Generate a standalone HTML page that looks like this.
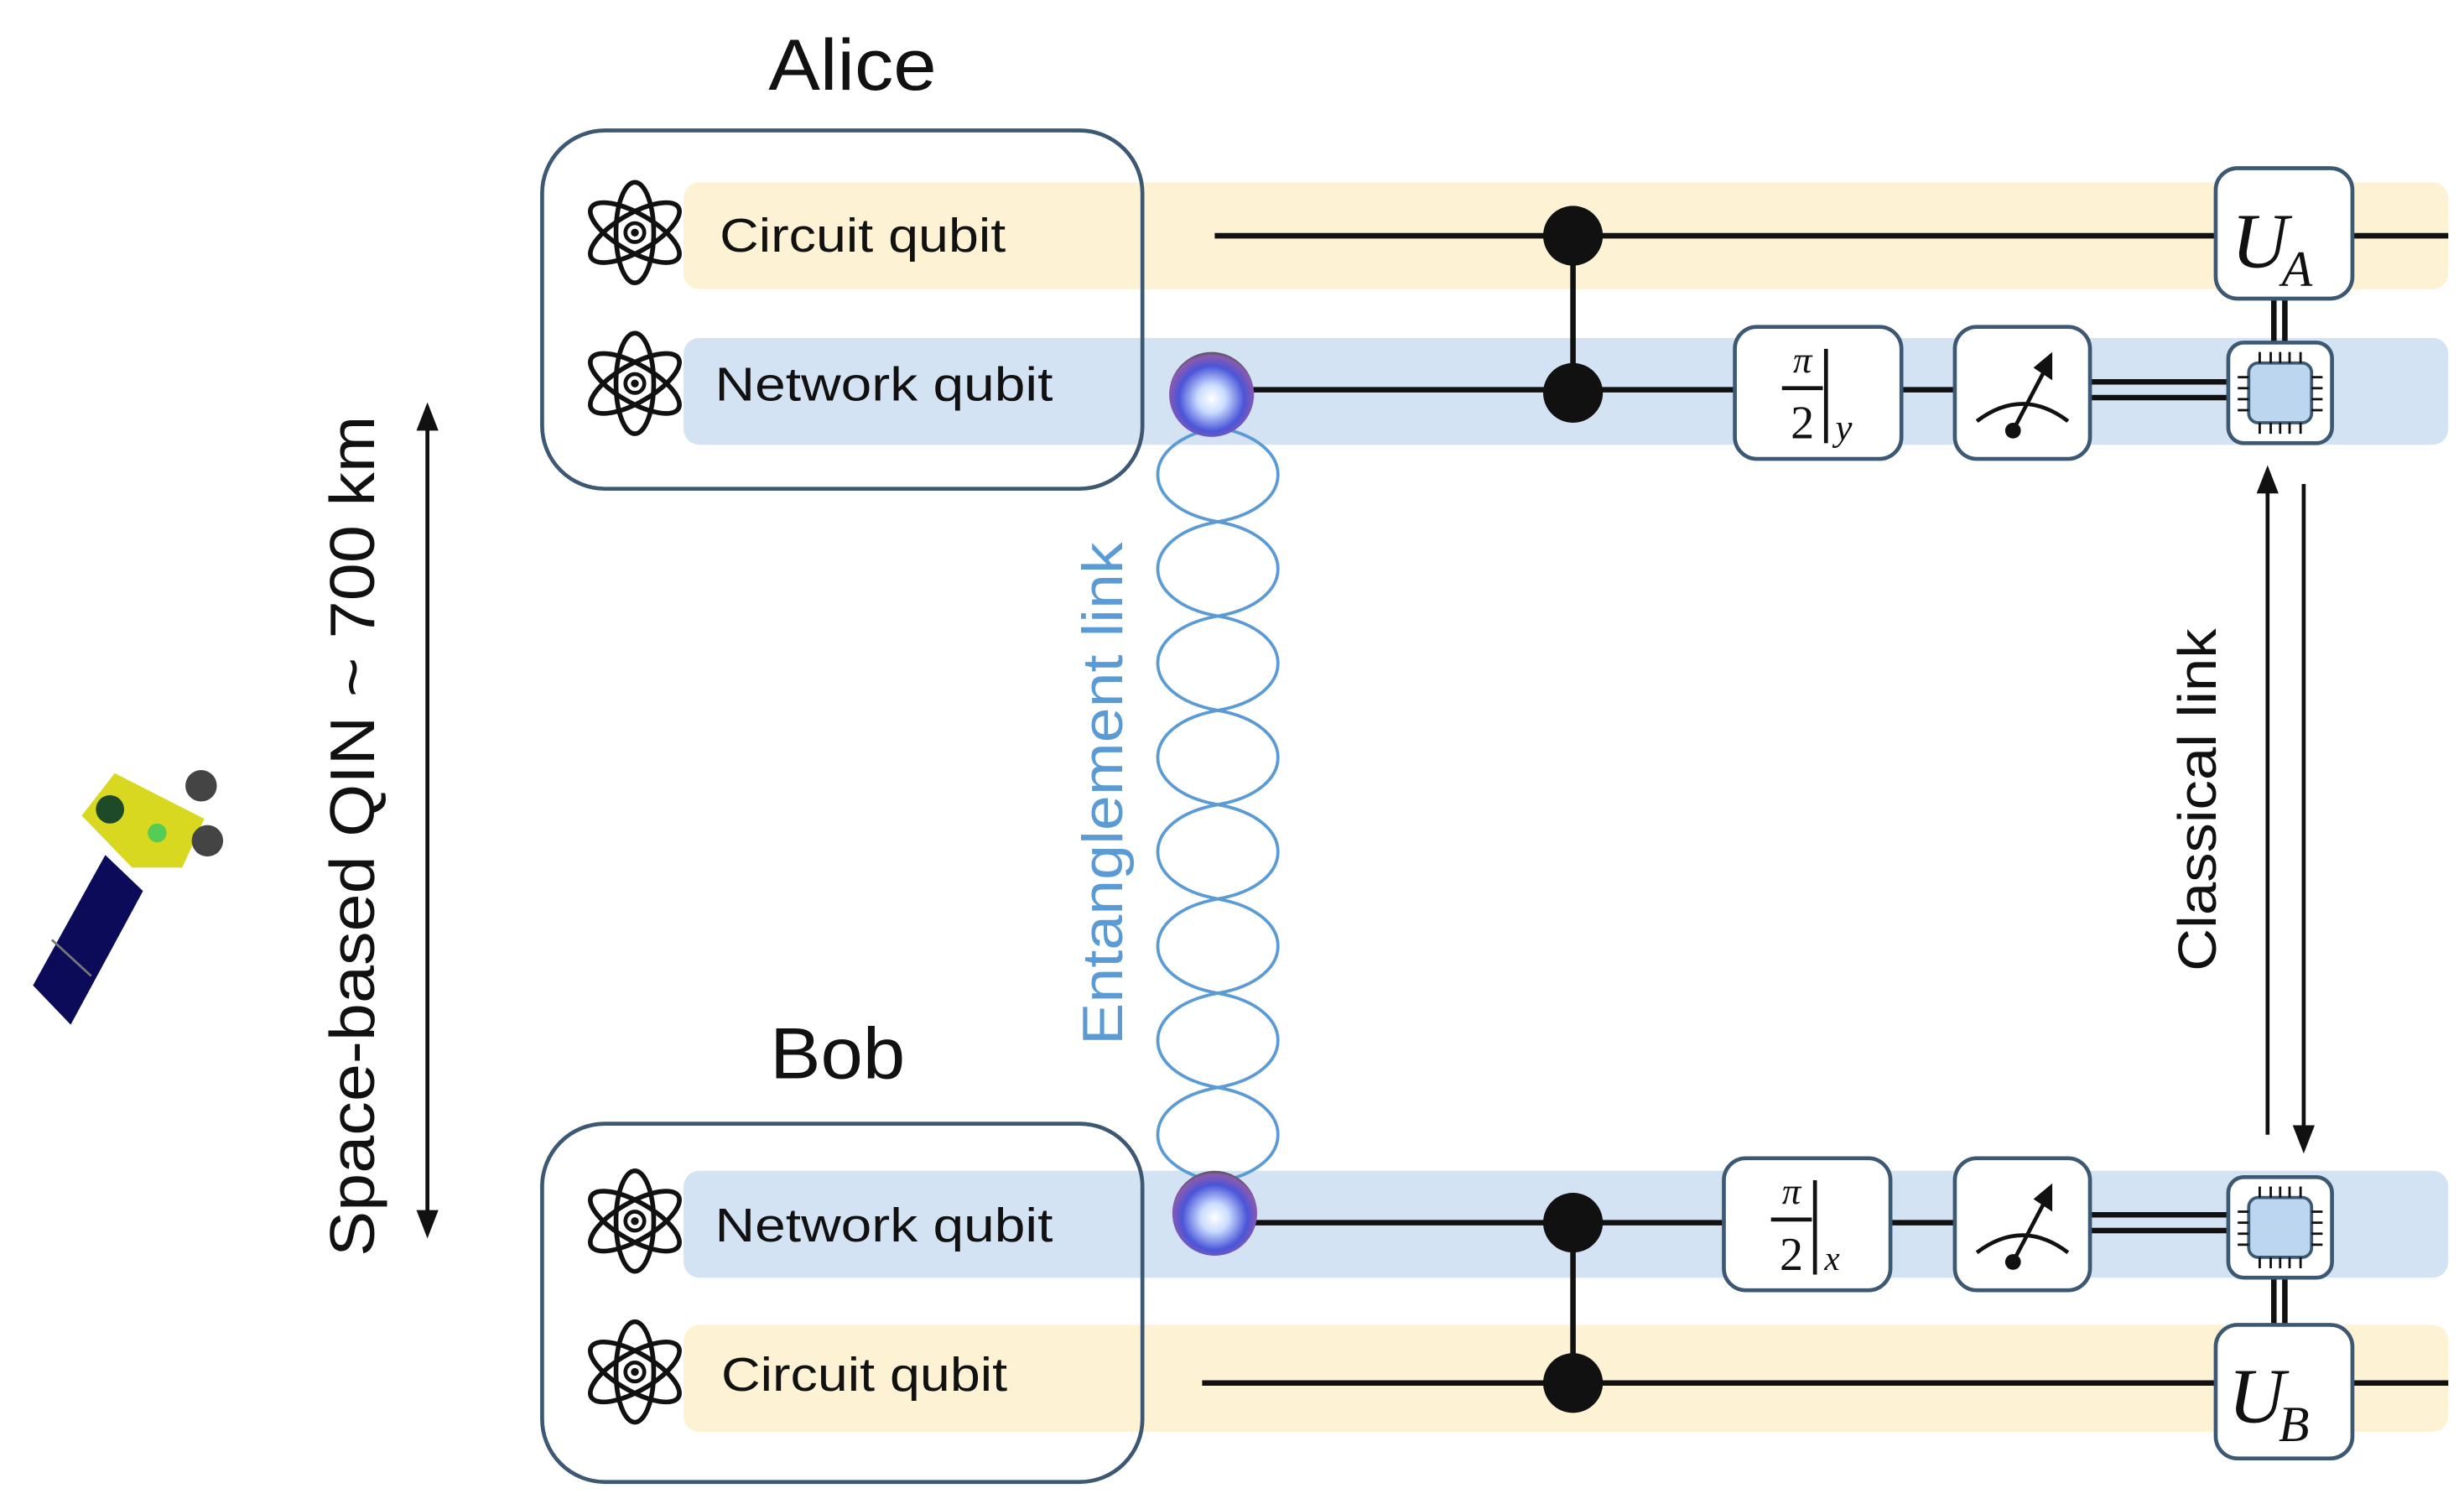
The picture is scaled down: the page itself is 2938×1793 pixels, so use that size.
<!DOCTYPE html>
<html><head><meta charset="utf-8"><style>
html,body{margin:0;padding:0;background:#fff;}
svg{display:block;}
</style></head><body>
<svg width="2938" height="1793" viewBox="0 0 1568 957" preserveAspectRatio="none" xmlns="http://www.w3.org/2000/svg" font-family="'Liberation Sans', sans-serif">
<defs>
<g id="atom" fill="none" stroke="#111" stroke-width="3">
<ellipse cx="0" cy="0" rx="12" ry="32"/>
<ellipse cx="0" cy="0" rx="12" ry="32" transform="rotate(60)"/>
<ellipse cx="0" cy="0" rx="12" ry="32" transform="rotate(-60)"/>
<circle cx="0" cy="0" r="6" stroke-width="2.5"/>
<circle cx="0" cy="0" r="2.5" fill="#111" stroke="none"/>
</g>
<radialGradient id="ball" cx="0.5" cy="0.55" r="0.55">
<stop offset="0" stop-color="#ffffff"/>
<stop offset="0.3" stop-color="#c9dcff"/>
<stop offset="0.7" stop-color="#4a55d8"/>
<stop offset="0.92" stop-color="#8a5ab0"/>
<stop offset="1" stop-color="#555"/>
</radialGradient>
<g id="meter">
<rect x="0" y="0" width="86" height="84" rx="14" fill="#fff" stroke="#3d5873" stroke-width="2.5"/>
<path d="M14 60 Q43 38 72 60" fill="none" stroke="#111" stroke-width="2.5"/>
<line x1="37" y1="66" x2="58" y2="26" stroke="#111" stroke-width="2.5"/>
<polygon points="62,16 62,34 50,26" fill="#111"/>
<circle cx="37" cy="66" r="5" fill="#111"/>
</g>
<g id="chip">
<rect x="0" y="0" width="66" height="64" rx="10" fill="#fff" stroke="#3d5873" stroke-width="2.5"/>
<rect x="13" y="13" width="40" height="38" rx="6" fill="#bcd6ef" stroke="#3d5873" stroke-width="2"/>
<g stroke="#111" stroke-width="1.5">
<line x1="20" y1="6" x2="20" y2="13"/><line x1="27" y1="6" x2="27" y2="13"/><line x1="33" y1="6" x2="33" y2="13"/><line x1="39" y1="6" x2="39" y2="13"/><line x1="46" y1="6" x2="46" y2="13"/>
<line x1="20" y1="51" x2="20" y2="58"/><line x1="27" y1="51" x2="27" y2="58"/><line x1="33" y1="51" x2="33" y2="58"/><line x1="39" y1="51" x2="39" y2="58"/><line x1="46" y1="51" x2="46" y2="58"/>
<line x1="6" y1="22" x2="13" y2="22"/><line x1="6" y1="29" x2="13" y2="29"/><line x1="6" y1="36" x2="13" y2="36"/><line x1="6" y1="43" x2="13" y2="43"/>
<line x1="53" y1="22" x2="60" y2="22"/><line x1="53" y1="29" x2="60" y2="29"/><line x1="53" y1="36" x2="60" y2="36"/><line x1="53" y1="43" x2="60" y2="43"/>
</g>
</g>
</defs>

<!-- Satellite -->
<polygon points="21,627 45,652 91,567 67,544" fill="#0b0b5a"/>
<line x1="33" y1="598" x2="58" y2="621" stroke="#777" stroke-width="1.5"/>
<polygon points="52,519 73,492 130,521 116,552 84,552" fill="#d8d820"/>
<circle cx="70" cy="515" r="9" fill="#1f4a2a"/>
<circle cx="100" cy="530" r="6" fill="#55cc55"/>
<circle cx="128" cy="500" r="10" fill="#444"/>
<circle cx="132" cy="535" r="10" fill="#444"/>

<!-- Left distance arrow -->
<line x1="272" y1="270" x2="272" y2="775" stroke="#111" stroke-width="2.5"/>
<polygon points="272,256 265,274 279,274" fill="#111"/>
<polygon points="272,788 265,770 279,770" fill="#111"/>
<text transform="translate(238,532) rotate(-90)" text-anchor="middle" font-size="40" textLength="535" lengthAdjust="spacingAndGlyphs" fill="#111">Space-based QIN ~ 700 km</text>

<!-- Bands -->
<rect x="435" y="116" width="1123" height="68" rx="10" fill="#fdf2d3"/>
<rect x="435" y="215" width="1123" height="68" rx="10" fill="#d4e3f3"/>
<rect x="435" y="745" width="1123" height="68" rx="10" fill="#d4e3f3"/>
<rect x="435" y="843" width="1123" height="68" rx="10" fill="#fdf2d3"/>

<!-- Node boxes -->
<text x="489" y="57" font-size="46" textLength="107" lengthAdjust="spacingAndGlyphs" fill="#111">Alice</text>
<rect x="345" y="83" width="382" height="228" rx="40" fill="none" stroke="#3d5873" stroke-width="2.5"/>
<text x="490" y="686" font-size="46" textLength="86" lengthAdjust="spacingAndGlyphs" fill="#111">Bob</text>
<rect x="345" y="715" width="382" height="228" rx="40" fill="none" stroke="#3d5873" stroke-width="2.5"/>

<use href="#atom" x="404" y="148"/>
<use href="#atom" x="404" y="244"/>
<use href="#atom" x="404" y="777"/>
<use href="#atom" x="404" y="873"/>
<text x="458" y="160" font-size="30" textLength="182" lengthAdjust="spacingAndGlyphs" fill="#111">Circuit qubit</text>
<text x="455" y="255" font-size="30" textLength="215" lengthAdjust="spacingAndGlyphs" fill="#111">Network qubit</text>
<text x="455" y="790" font-size="30" textLength="215" lengthAdjust="spacingAndGlyphs" fill="#111">Network qubit</text>
<text x="459" y="885" font-size="30" textLength="182" lengthAdjust="spacingAndGlyphs" fill="#111">Circuit qubit</text>

<!-- Entanglement helix -->
<g fill="none" stroke="#5b9bd5" stroke-width="2">
<path d="M775 272 C826 281 826 323 775 332 C724 341 724 383 775 392 C826 401 826 443 775 452 C724 461 724 503 775 512 C826 521 826 563 775 572 C724 581 724 623 775 632 C826 641 826 683 775 692 C724 701 724 743 775 752"/>
<path d="M775 272 C724 281 724 323 775 332 C826 341 826 383 775 392 C724 401 724 443 775 452 C826 461 826 503 775 512 C724 521 724 563 775 572 C826 581 826 623 775 632 C724 641 724 683 775 692 C826 701 826 743 775 752"/>
</g>
<text transform="translate(714,505) rotate(-90)" text-anchor="middle" font-size="36" textLength="320" lengthAdjust="spacingAndGlyphs" fill="#5b9bd5">Entanglement link</text>

<!-- Wires -->
<g stroke="#111" stroke-width="3.5">
<line x1="773" y1="150" x2="1558" y2="150"/>
<line x1="797" y1="248" x2="1244" y2="248"/>
<line x1="1001" y1="150" x2="1001" y2="250"/>
<line x1="797" y1="778" x2="1244" y2="778"/>
<line x1="765" y1="880" x2="1558" y2="880"/>
<line x1="1001" y1="778" x2="1001" y2="880"/>
<line x1="1330" y1="243" x2="1418" y2="243"/>
<line x1="1330" y1="253" x2="1418" y2="253"/>
<line x1="1330" y1="773" x2="1418" y2="773"/>
<line x1="1330" y1="783" x2="1418" y2="783"/>
<line x1="1447" y1="190" x2="1447" y2="218"/>
<line x1="1454" y1="190" x2="1454" y2="218"/>
<line x1="1447" y1="813" x2="1447" y2="843"/>
<line x1="1454" y1="813" x2="1454" y2="843"/>
</g>
<circle cx="1001" cy="150" r="19" fill="#111"/>
<circle cx="1001" cy="250" r="19" fill="#111"/>
<circle cx="1001" cy="778" r="19" fill="#111"/>
<circle cx="1001" cy="880" r="19" fill="#111"/>

<ellipse cx="771" cy="251" rx="27" ry="27" fill="url(#ball)"/>
<ellipse cx="773" cy="772" rx="27" ry="27" fill="url(#ball)"/>

<!-- Gates Alice -->
<rect x="1104" y="208" width="106" height="84" rx="14" fill="#fff" stroke="#3d5873" stroke-width="2.5"/>
<g font-family="'Liberation Serif', serif" fill="#111">
<text x="1147" y="237" text-anchor="middle" font-size="24" font-style="italic">π</text>
<line x1="1134" y1="247" x2="1160" y2="247" stroke="#111" stroke-width="2.5"/>
<text x="1147" y="279" text-anchor="middle" font-size="30">2</text>
<line x1="1162" y1="222" x2="1162" y2="282" stroke="#111" stroke-width="2.5"/>
<text x="1168" y="280" font-size="24" font-style="italic">y</text>
</g>
<use href="#meter" x="1244" y="208"/>
<use href="#chip" x="1418" y="218"/>
<rect x="1410" y="107" width="87" height="83" rx="14" fill="#fff" stroke="#3d5873" stroke-width="2.5"/>
<text x="1420" y="170" font-family="'Liberation Serif', serif" font-style="italic" font-size="50" fill="#111">U</text>
<text x="1452" y="182" font-family="'Liberation Serif', serif" font-style="italic" font-size="32" fill="#111">A</text>

<!-- Gates Bob -->
<rect x="1097" y="737" width="106" height="84" rx="14" fill="#fff" stroke="#3d5873" stroke-width="2.5"/>
<g font-family="'Liberation Serif', serif" fill="#111">
<text x="1140" y="766" text-anchor="middle" font-size="24" font-style="italic">π</text>
<line x1="1127" y1="776" x2="1153" y2="776" stroke="#111" stroke-width="2.5"/>
<text x="1140" y="808" text-anchor="middle" font-size="30">2</text>
<line x1="1155" y1="751" x2="1155" y2="811" stroke="#111" stroke-width="2.5"/>
<text x="1161" y="808" font-size="22" font-style="italic">x</text>
</g>
<use href="#meter" x="1244" y="737"/>
<use href="#chip" x="1418" y="749"/>
<rect x="1410" y="843" width="87" height="85" rx="14" fill="#fff" stroke="#3d5873" stroke-width="2.5"/>
<text x="1418" y="905" font-family="'Liberation Serif', serif" font-style="italic" font-size="50" fill="#111">U</text>
<text x="1450" y="917" font-family="'Liberation Serif', serif" font-style="italic" font-size="32" fill="#111">B</text>

<!-- Classical link arrows -->
<line x1="1443" y1="312" x2="1443" y2="722" stroke="#111" stroke-width="2.5"/>
<polygon points="1443,296 1436,314 1450,314" fill="#111"/>
<line x1="1466" y1="308" x2="1466" y2="718" stroke="#111" stroke-width="2.5"/>
<polygon points="1466,734 1459,716 1473,716" fill="#111"/>
<text transform="translate(1410,509) rotate(-90)" text-anchor="middle" font-size="34" textLength="218" lengthAdjust="spacingAndGlyphs" fill="#111">Classical link</text>
</svg>
</body></html>
